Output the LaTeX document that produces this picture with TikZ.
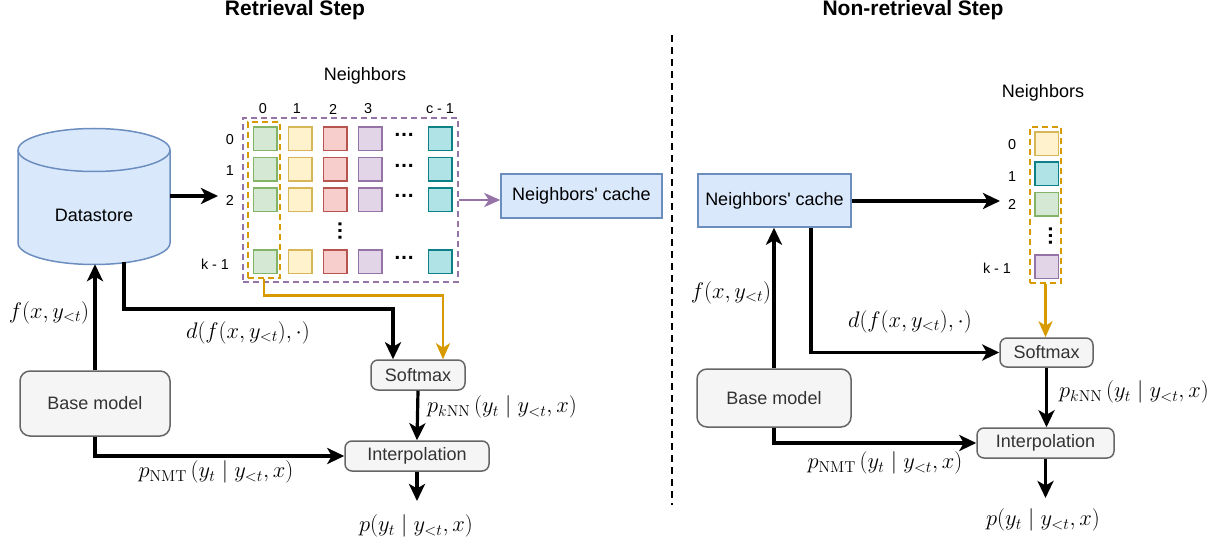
\documentclass[tikz,border=0pt]{standalone}
\usepackage{fix-cm}
\usepackage[no-math]{fontspec}
\newfontfamily\arial{Liberation Sans}
\usetikzlibrary{arrows.meta}
\definecolor{dsfill}{HTML}{DAE8FC}
\definecolor{dsline}{HTML}{6C8EBF}
\definecolor{gfill}{HTML}{D5E8D4}\definecolor{gline}{HTML}{82B366}
\definecolor{yfill}{HTML}{FFF2CC}\definecolor{yline}{HTML}{D6B656}
\definecolor{rfill}{HTML}{F8CECC}\definecolor{rline}{HTML}{B85450}
\definecolor{pfill}{HTML}{E1D5E7}\definecolor{pline}{HTML}{9673A6}
\definecolor{tfill}{HTML}{B0E3E6}\definecolor{tline}{HTML}{0E8088}
\definecolor{boxfill}{HTML}{F5F5F5}\definecolor{boxline}{HTML}{666666}
\definecolor{boxtext}{HTML}{333333}
\definecolor{orng}{HTML}{D79B00}
\newcommand\mfs{\fontsize{22.5}{26}\selectfont}
\newcommand\bfs{\arial\fontsize{18}{21}\selectfont}
\begin{document}
\begin{tikzpicture}[x=1pt,y=-1pt,
  arr/.style={line width=3.2pt, -{Stealth[length=17pt,width=16pt,inset=4.5pt]}},
  oarr/.style={line width=2.8pt, draw=orng, -{Stealth[length=16pt,width=14pt,inset=4.5pt]}},
  parr/.style={line width=2.8pt, draw=pline, -{Stealth[length=16pt,width=14pt,inset=4.5pt]}},
  sq/.style={draw, line width=1.5pt, minimum size=23.5pt, inner sep=0pt},
  gsq/.style={sq, fill=gfill, draw=gline},
  ysq/.style={sq, fill=yfill, draw=yline},
  rsq/.style={sq, fill=rfill, draw=rline},
  psq/.style={sq, fill=pfill, draw=pline},
  tsq/.style={sq, fill=tfill, draw=tline},
  bluebox/.style={draw=dsline, fill=dsfill, line width=1.5pt, inner sep=0pt, font=\bfs},
  graybox/.style={draw=boxline, fill=boxfill, line width=1.5pt, rounded corners=7pt, inner sep=0pt, text=boxtext, font=\bfs},
  idx/.style={font=\arial\fontsize{14.4}{16}\selectfont, inner sep=0pt},
  mlab/.style={font=\mfs, inner sep=0pt},
  dotlab/.style={font=\arial\bfseries\fontsize{21}{24}\selectfont, inner sep=0pt},
  title/.style={font=\arial\bfseries\fontsize{21}{24}\selectfont, inner sep=0pt, anchor=base},
]
\useasboundingbox (0,0) rectangle (1223,545);

% ---------- titles ----------
\node[title] (t1) at (295,15.5) {Retrieval Step};
\node[title] (t2) at (913,15.5) {Non-retrieval Step};

% ---------- divider ----------
\coordinate (divtop) at (672,35);
\coordinate (divbot) at (672,505);
\draw[line width=2.2pt, dash pattern=on 7pt off 5pt] (divtop) -- (divbot);

% ================= LEFT: retrieval step =================
% datastore cylinder
\path[fill=dsfill, draw=dsline, line width=1.5pt] (18,150) -- (18,243)
  arc[start angle=180, end angle=0, x radius=76, y radius=21.5] -- (170,150)
  arc[start angle=0, end angle=-180, x radius=76, y radius=21.5] -- cycle;
\draw[dsline, line width=1.5pt] (18,150) arc[start angle=180, end angle=0, x radius=76, y radius=21.5];
\node[minimum width=152pt, minimum height=136pt, inner sep=0pt] (ds) at (94,196) {};
\node[font=\bfs] (dstext) at (94,215) {Datastore};
\coordinate (dsb) at (124,262.5);

% neighbors grid
\node[font=\bfs, inner sep=0pt] (nbl) at (365,76) {Neighbors};
\node[draw=pline, line width=2.2pt, dash pattern=on 6pt off 4pt, minimum width=215pt, minimum height=164pt, inner sep=0pt] (grid) at (350.5,200) {};
\foreach \lab/\x in {0/263,1/297,2/333,3/368,c - 1/440}{
  \node[idx] (cl\x) at (\x,109) {\lab};
}
\foreach \lab/\y/\x in {0/140/230,1/171/230,2/200/230,k - 1/264/215}{
  \node[idx] (rl\y) at (\x,\y) {\lab};
}
\foreach \y/\r in {139/0,169.5/1,200/2,262/3}{
  \node[gsq] (g\r a) at (265,\y) {};
  \node[ysq] (g\r b) at (300,\y) {};
  \node[rsq] (g\r c) at (335,\y) {};
  \node[psq] (g\r d) at (370,\y) {};
  \node[dotlab] (g\r h) at (404,\y-4) {…};
  \node[tsq] (g\r e) at (440,\y) {};
}
\node[dotlab, rotate=90] (vd) at (340,231) {…};
\node[draw=orng, line width=2.5pt, dash pattern=on 6pt off 4pt, minimum width=32pt, minimum height=156pt, inner sep=0pt] (col0) at (264,200) {};

% boxes
\node[bluebox, minimum width=161pt, minimum height=44pt] (cache) at (581.5,196) {Neighbors' cache};
\node[graybox, rounded corners=10pt, minimum width=150pt, minimum height=65pt] (bm) at (95,403.5) {Base model};
\node[graybox, minimum width=94pt, minimum height=30pt] (sm) at (418,375) {Softmax};
\node[graybox, minimum width=144pt, minimum height=30pt] (ip) at (417,456) {Interpolation};
\coordinate (gin) at (218,196);
\coordinate (out1) at (417,501);

% connectors
\draw[arr] (ds.east |- gin) -- (gin);
\draw[parr] (grid.east) -- (grid.east -| cache.west);
\draw[oarr] (col0.south) -- ++(0,16) -| ([xshift=25pt]sm.north);
\draw[arr] (dsb) -- (124,309) -| ([xshift=-25pt]sm.north);
\draw[arr] (bm.north) -- (bm.north |- ds.south);
\draw[arr] (bm.south) |- (ip.west);
\draw[arr] (sm.south) -- (ip.north);
\draw[arr] (ip.south) -- (out1);

% labels
\node[mlab] (lf1) at (49,313) {$f(x, y_{<t})$};
\node[mlab] (ld1) at (248,333) {$d(f(x, y_{<t}), \cdot)$};
\node[mlab] (lk1) at (502,407) {$p_{k\mathrm{NN}}\,(y_t \mid y_{<t}, x)$};
\node[mlab] (ln1) at (216,472) {$p_{\mathrm{NMT}}\,(y_t \mid y_{<t}, x)$};
\node[mlab] (lp1) at (416,526) {$p(y_t \mid y_{<t}, x)$};

% ================= RIGHT: non-retrieval step =================
\node[font=\bfs, inner sep=0pt] (nbr) at (1043,93) {Neighbors};
\foreach \lab/\y/\x in {0/145/1012,1/177/1012,2/204/1012,k - 1/268/997}{
  \node[idx] (rr\y) at (\x,\y) {\lab};
}
\node[ysq] (c0) at (1046.5,144) {};
\node[tsq] (c1) at (1046.5,174) {};
\node[gsq] (c2) at (1046.5,204.5) {};
\node[psq] (c3) at (1046.5,267) {};
\node[dotlab, rotate=90] (vd2) at (1050.5,236) {…};
\node[draw=orng, line width=2.5pt, dash pattern=on 6pt off 4pt, minimum width=31pt, minimum height=156pt, inner sep=0pt] (col) at (1045.5,205) {};

\node[bluebox, minimum width=153pt, minimum height=53pt] (cache2) at (774.5,200.5) {Neighbors' cache};
\node[graybox, rounded corners=10pt, minimum width=154pt, minimum height=58pt] (bm2) at (774,398) {Base model};
\node[graybox, minimum width=93pt, minimum height=29pt] (sm2) at (1046.5,352.5) {Softmax};
\node[graybox, minimum width=137pt, minimum height=30pt] (ip2) at (1045.5,443) {Interpolation};
\coordinate (nin) at (1000,201);
\coordinate (out2) at (1045.5,498);

\draw[arr] (cache2.east |- nin) -- (nin);
\draw[arr] (bm2.north) -- (bm2.north |- cache2.south);
\draw[arr] ([xshift=36.5pt]cache2.south) |- (sm2.west);
\draw[arr] (bm2.south) |- (ip2.west);
\draw[oarr] (col.south) -- (sm2.north -| col.south);
\draw[arr] (sm2.south) -- (ip2.north -| sm2.south);
\draw[arr] (ip2.south) -- (out2);

\node[mlab] (lf2) at (731,293) {$f(x, y_{<t})$};
\node[mlab] (ld2) at (910,322) {$d(f(x, y_{<t}), \cdot)$};
\node[mlab] (lk2) at (1134,392) {$p_{k\mathrm{NN}}\,(y_t \mid y_{<t}, x)$};
\node[mlab] (ln2) at (885,463) {$p_{\mathrm{NMT}}\,(y_t \mid y_{<t}, x)$};
\node[mlab] (lp2) at (1043,520) {$p(y_t \mid y_{<t}, x)$};
\end{tikzpicture}
\end{document}
